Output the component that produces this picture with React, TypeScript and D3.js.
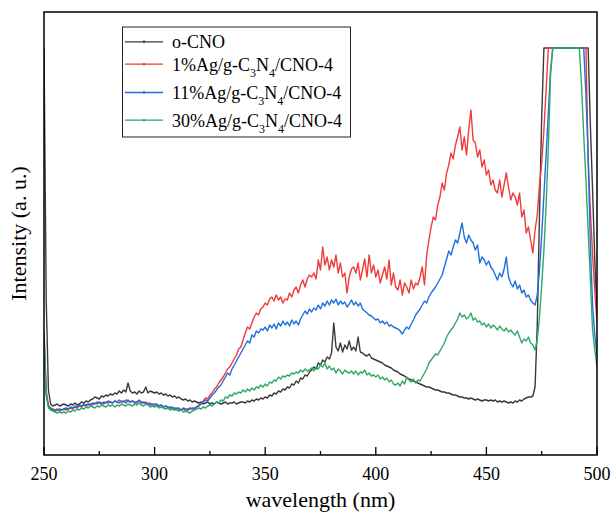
import React from "react";
import * as d3 from "d3";

// wavelength grid (nm): 250..500, 1 nm step
const wlStart = 250;
const wlEnd = 500;
const xTicks = [250, 300, 350, 400, 450, 500];
const xMinorTicks = [275, 325, 375, 425, 475];

// intensities (a.u.), one value per nm from 250 to 500
const oCNO = [
  407, 155, 65, 51, 49, 50, 51, 49, 50, 51,
  50, 49, 51, 50, 52, 50, 51, 53, 52, 54,
  53, 55, 56, 58, 57, 56, 59, 58, 60, 59,
  61, 60, 62, 61, 64, 62, 65, 63, 72, 64,
  62, 63, 61, 64, 62, 63, 68, 62, 64, 63,
  62, 63, 61, 62, 60, 61, 59, 60, 58, 59,
  57, 58, 56, 55, 56, 54, 55, 53, 54, 53,
  52, 53, 51, 52, 53, 51, 52, 51, 53, 52,
  51, 52, 53, 51, 52, 52, 53, 51, 52, 53,
  53, 52, 54, 53, 55, 54, 56, 55, 57, 56,
  58, 57, 60, 59, 62, 61, 64, 63, 66, 65,
  68, 67, 71, 70, 74, 72, 77, 76, 80, 79,
  83, 85, 88, 86, 92, 90, 95, 93, 98, 96,
  102, 132, 108, 104, 112, 103, 110, 106, 114, 105,
  108, 104, 118, 103, 102, 100, 99, 101, 97, 96,
  95, 94, 93, 92, 90, 89, 88, 87, 85, 84,
  83, 81, 80, 79, 77, 76, 75, 74, 73, 72,
  71, 70, 69, 68, 68, 67, 66, 65, 65, 64,
  63, 63, 62, 62, 61, 60, 60, 59, 58, 58,
  57, 57, 56, 57, 56, 55, 56, 55, 54, 55,
  55, 54, 55, 54, 55, 53, 54, 53, 54, 53,
  52, 53, 52, 54, 53, 55, 54, 56, 57, 58,
  58, 59, 68, 130, 240, 338, 407, 407, 407, 407,
  407, 407, 407, 407, 407, 407, 407, 407, 407, 407,
  407, 407, 407, 407, 407, 407, 407, 330, 265, 195,
  140,
];

const ag1 = [
  125, 65, 50, 47, 46, 45, 46, 44, 45, 46,
  45, 46, 47, 46, 48, 47, 49, 48, 50, 49,
  50, 51, 50, 52, 51, 53, 52, 51, 53, 52,
  53, 52, 54, 53, 52, 54, 53, 55, 54, 53,
  54, 53, 52, 54, 53, 52, 53, 51, 52, 50,
  51, 50, 49, 50, 48, 49, 47, 48, 46, 47,
  46, 47, 45, 46, 45, 46, 47, 46, 47, 48,
  50, 52, 54, 57, 56, 60, 62, 66, 68, 72,
  75, 78, 82, 86, 88, 92, 96, 100, 106, 108,
  115, 122, 128, 126, 132, 138, 142, 140, 146, 148,
  152, 150, 156, 158, 154, 160, 155, 158, 152, 156,
  155, 162, 158, 165, 168, 162, 170, 175, 168, 176,
  180, 178, 182, 176, 195, 185, 208, 190, 198, 185,
  195, 188, 200, 182, 192, 178, 182, 162, 178, 186,
  188, 182, 192, 175, 185, 196, 178, 200, 182, 190,
  178, 185, 172, 180, 188, 176, 195, 170, 182, 168,
  165, 175, 160, 172, 168, 162, 175, 166, 172, 170,
  178, 188, 170, 200, 215, 228, 238, 235, 250, 258,
  272, 265, 282, 290, 302, 296, 310, 318, 328, 305,
  318, 300, 325, 345, 315, 312, 298, 305, 288, 295,
  280, 285, 270, 275, 265, 262, 275, 258, 270, 282,
  268, 255, 262, 258, 250, 262, 238, 245, 222, 228,
  215, 202, 225, 240, 270, 292, 325, 365, 407, 407,
  407, 407, 407, 407, 407, 407, 407, 407, 407, 407,
  407, 407, 407, 407, 407, 407, 295, 245, 200, 165,
  132,
];

const ag11 = [
  120, 60, 49, 46, 45, 44, 45, 46, 45, 46,
  47, 46, 48, 47, 49, 48, 50, 49, 51, 50,
  51, 50, 52, 51, 53, 52, 51, 53, 52, 54,
  53, 52, 54, 53, 55, 53, 54, 52, 55, 53,
  54, 52, 53, 55, 52, 53, 51, 52, 50, 51,
  50, 51, 49, 50, 48, 49, 48, 47, 48, 46,
  47, 46, 45, 47, 46, 45, 46, 47, 46, 48,
  49, 51, 53, 55, 54, 57, 60, 62, 65, 68,
  70, 74, 78, 82, 80, 86, 90, 94, 98, 102,
  106, 110, 114, 112, 120, 118, 124, 122, 126, 125,
  128, 124, 130, 127, 131, 126, 132, 129, 134, 130,
  133, 129, 135, 131, 134, 130, 136, 140, 144, 141,
  146, 143, 147, 145, 150, 146, 152, 149, 154, 150,
  155, 152, 156, 150, 154, 151, 153, 148, 151, 155,
  150, 153, 149, 152, 146, 144, 142, 140, 139, 137,
  135, 136, 132, 134, 131, 133, 129, 130, 128, 127,
  126, 124, 121, 125, 128, 126, 131, 135, 140, 143,
  146, 150, 154, 152, 158, 162, 165, 168, 172, 176,
  180, 188, 196, 204, 200, 208, 215, 212, 222, 232,
  218, 212, 220, 215, 212, 205, 210, 192, 198, 195,
  190, 194, 188, 185, 180, 175, 182, 178, 186, 198,
  178, 172, 168, 174, 166, 170, 162, 165, 158, 160,
  155, 152, 150, 160, 185, 220, 260, 300, 342, 385,
  407, 407, 407, 407, 407, 407, 407, 407, 407, 407,
  407, 407, 407, 407, 407, 360, 300, 210, 150, 120,
  100,
];

const ag30 = [
  110, 60, 47, 45, 44, 43, 42, 43, 42, 43,
  42, 44, 43, 45, 44, 46, 45, 47, 46, 48,
  47, 49, 48, 47, 49, 48, 50, 49, 48, 50,
  49, 50, 48, 50, 49, 51, 50, 49, 51, 50,
  49, 51, 50, 52, 50, 49, 51, 50, 48, 49,
  48, 49, 47, 48, 47, 46, 47, 45, 46, 45,
  45, 44, 45, 43, 44, 43, 42, 44, 45, 46,
  47, 46, 48, 47, 49, 50, 49, 51, 53, 52,
  55, 54, 58, 57, 60, 59, 62, 61, 63, 62,
  65, 63, 66, 64, 67, 65, 68, 67, 70, 68,
  71, 69, 73, 72, 75, 74, 78, 76, 79, 78,
  80, 79, 82, 81, 83, 82, 85, 83, 86, 84,
  85, 87, 84, 88, 86, 90, 88, 92, 86, 89,
  85, 87, 82, 86, 84, 81, 85, 83, 82, 84,
  81, 84, 80, 83, 82, 85, 80, 82, 79, 80,
  78, 80, 76, 78, 75, 77, 73, 75, 71, 70,
  72, 69, 74, 71, 78, 75, 73, 76, 72, 75,
  74, 78, 82, 86, 92, 95, 98, 101, 100, 104,
  108, 112, 118, 122, 125, 128, 132, 136, 142, 138,
  140, 136, 138, 142, 135, 137, 133, 134, 130, 132,
  128, 131, 127, 130, 128, 125, 129, 126, 124, 127,
  123, 125, 122, 120, 124, 118, 112, 116, 114, 118,
  112, 110, 105, 115, 138, 170, 205, 250, 308, 380,
  407, 407, 407, 407, 407, 407, 407, 407, 407, 407,
  407, 407, 407, 370, 320, 275, 225, 175, 125, 105,
  88,
];

type Part = { t: string; sub?: boolean };
const seriesLabels: Part[][] = [
  [{ t: "o-CNO" }],
  [{ t: "1%Ag/g-C" }, { t: "3", sub: true }, { t: "N" }, { t: "4", sub: true }, { t: "/CNO-4" }],
  [{ t: "11%Ag/g-C" }, { t: "3", sub: true }, { t: "N" }, { t: "4", sub: true }, { t: "/CNO-4" }],
  [{ t: "30%Ag/g-C" }, { t: "3", sub: true }, { t: "N" }, { t: "4", sub: true }, { t: "/CNO-4" }],
];
const seriesData = [oCNO, ag1, ag11, ag30];
const seriesColors = ["#3a3a3a", "#ef3b3b", "#1f6fdf", "#2fa866"];

const W = 613;
const H = 515;
const plotL = 44;
const plotR = 597;
const plotT = 12;
const plotB = 455;
const FONT = "Liberation Serif";
const txt = { fontFamily: FONT };

export default function App() {
  const x = d3.scaleLinear().domain([wlStart, wlEnd]).range([plotL, plotR]);
  const y = d3.scaleLinear().domain([0, 443]).range([plotB, plotT]);
  const line = d3
    .line<number>()
    .x((_, i) => x(wlStart + i))
    .y((d) => y(d));

  const legendRowsY = [48.3, 70.7, 99, 126.7];

  return (
    <svg
      width={W}
      height={H}
      style={{ position: "absolute", left: 0, top: 0, background: "#fff", fontFamily: FONT }}
    >
      <defs>
        <clipPath id="plotclip">
          <rect x={plotL} y={plotT} width={plotR - plotL} height={plotB - plotT} />
        </clipPath>
      </defs>
      <g clipPath="url(#plotclip)">
        {seriesData.map((s, i) => (
          <path
            key={i}
            d={line(s) || ""}
            fill="none"
            stroke={seriesColors[i]}
            strokeWidth={1.4}
            strokeLinejoin="round"
          />
        ))}
      </g>
      <rect
        x={plotL}
        y={plotT}
        width={plotR - plotL}
        height={plotB - plotT}
        fill="none"
        stroke="#000"
        strokeWidth={1.5}
      />
      {xTicks.map((t) => (
        <g key={t}>
          <line x1={x(t)} x2={x(t)} y1={plotB} y2={plotB - 8} stroke="#000" strokeWidth={1.3} />
          <text x={x(t)} y={480} textAnchor="middle" fontSize={18} fill="#000" style={txt}>
            {t}
          </text>
        </g>
      ))}
      {xMinorTicks.map((t) => (
        <line key={t} x1={x(t)} x2={x(t)} y1={plotB} y2={plotB - 4} stroke="#000" strokeWidth={1.3} />
      ))}
      <text x={(plotL + plotR) / 2} y={507} textAnchor="middle" fontSize={22} fill="#000" style={txt}>
        wavelength (nm)
      </text>
      <text
        transform={`translate(26,${(plotT + plotB) / 2}) rotate(-90)`}
        textAnchor="middle"
        fontSize={22}
        fill="#000"
        style={txt}
      >
        Intensity (a. u.)
      </text>
      <rect x={122.5} y={27} width={228} height={110} fill="#fff" stroke="#222" strokeWidth={1} />
      {seriesLabels.map((parts, i) => {
        const by = legendRowsY[i];
        return (
          <g key={i}>
            <line x1={125} x2={163} y1={by - 6.5} y2={by - 6.5} stroke={seriesColors[i]} strokeWidth={1.3} />
            <circle cx={144} cy={by - 6.5} r={1.2} fill={seriesColors[i]} />
            <text x={172} y={by} fontSize={18} fill="#000" style={txt}>
              {parts.map((p, j) => {
                const prev = j > 0 ? parts[j - 1] : null;
                let dy = 0;
                if (p.sub) dy = 6;
                else if (prev && prev.sub) dy = -6;
                return (
                  <tspan key={j} dy={dy} fontSize={p.sub ? 12 : 18}>
                    {p.t}
                  </tspan>
                );
              })}
            </text>
          </g>
        );
      })}
    </svg>
  );
}
